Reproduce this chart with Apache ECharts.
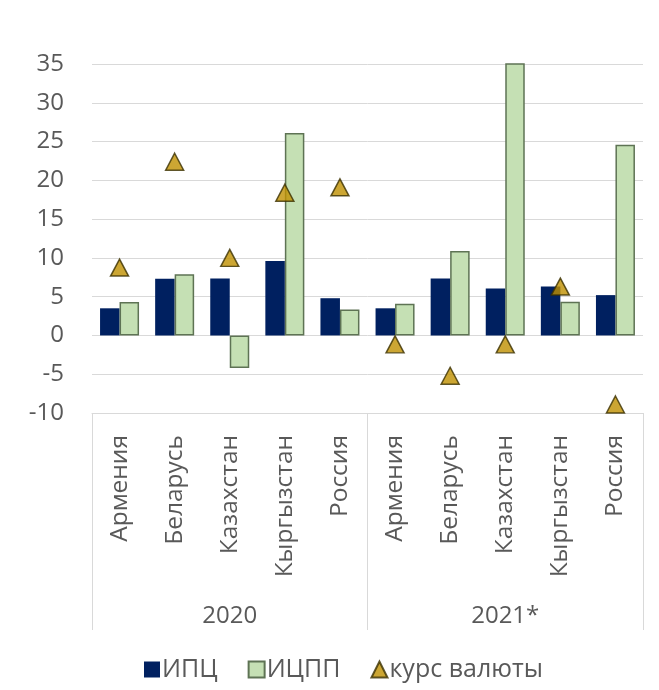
<!DOCTYPE html>
<html>
<head>
<meta charset="utf-8">
<script src="https://cdn.jsdelivr.net/npm/echarts@6/dist/echarts.min.js"></script>
<style>
  html, body { margin: 0; padding: 0; background: #ffffff; }
  #chart { width: 659px; height: 690px; }
</style>
</head>
<body>
<div id="chart"></div>
<script>
// Countries (repeated for each year) and the year groups below them
const countries = ['Армения', 'Беларусь', 'Казахстан', 'Кыргызстан', 'Россия',
                   'Армения', 'Беларусь', 'Казахстан', 'Кыргызстан', 'Россия'];
const years = ['2020', '2021*'];

// Series values, %
const cpi = [3.5, 7.3, 7.35, 9.6, 4.8, 3.5, 7.35, 6.05, 6.3, 5.2];           // ИПЦ
const ppi = [4.3, 7.9, -4.2, 26.1, 3.35, 4.1, 10.9, 35.1, 4.35, 24.6];      // ИЦПП
const fx  = [8.75, 22.4, 10.0, 18.4, 19.1, -1.15, -5.2, -1.15, 6.3, -8.9];  // курс валюты

const yTicks = { min: -10, max: 35, step: 5 };

const FONT = '"Open Sans", sans-serif';
const TEXT = '#595959';
const GRID = '#d9d9d9';

const chart = echarts.init(document.getElementById('chart'));
chart.setOption({
  backgroundColor: '#ffffff',
  animation: false,
  textStyle: { fontFamily: FONT },
  grid: { left: 92, right: 16, top: 64, bottom: 277, containLabel: false },
  legend: {
    left: 139, top: 652,
    itemWidth: 16, itemHeight: 16, itemGap: 30,
    textStyle: { fontFamily: FONT, fontSize: 25, color: TEXT, padding: [0, 0, 0, -3] },
    data: [
      { name: 'ИПЦ', icon: 'rect' },
      { name: 'ИЦПП', icon: 'rect' },
      { name: 'курс валюты', icon: 'triangle' }
    ]
  },
  xAxis: [
    {
      type: 'category',
      data: countries,
      boundaryGap: true,
      axisLine: { show: true, onZero: false, lineStyle: { color: GRID, width: 1 } },
      axisTick: { show: false },
      axisLabel: {
        rotate: 90, interval: 0, margin: 22,
        fontFamily: FONT, fontSize: 24.5, color: TEXT
      }
    },
    {
      // year groups: separators run down from the axis line, labels sit at the bottom
      type: 'category',
      data: years,
      position: 'bottom',
      offset: 0,
      boundaryGap: true,
      axisLine: { show: false, onZero: false },
      axisTick: { show: true, inside: false, length: 217, lineStyle: { color: GRID, width: 1 } },
      axisLabel: {
        margin: 191,
        fontFamily: FONT, fontSize: 24, color: TEXT
      }
    }
  ],
  yAxis: {
    type: 'value',
    min: yTicks.min, max: yTicks.max, interval: yTicks.step,
    axisLine: { show: false },
    axisTick: { show: false },
    axisLabel: { margin: 28, fontFamily: FONT, fontSize: 24, color: TEXT },
    splitLine: { show: true, lineStyle: { color: GRID, width: 1 } }
  },
  series: [
    {
      name: 'ИПЦ', type: 'bar', data: cpi, xAxisIndex: 0,
      barWidth: 19.5, barGap: '0%',
      itemStyle: { color: '#002060' }
    },
    {
      name: 'ИЦПП', type: 'bar', data: ppi, xAxisIndex: 0,
      barWidth: 19.5, barGap: '0%',
      itemStyle: { color: '#c5e0b4', borderColor: '#5e7354', borderWidth: 1.5 }
    },
    {
      name: 'курс валюты', type: 'scatter', data: fx, xAxisIndex: 0,
      symbol: 'triangle', symbolSize: [18, 17],
      itemStyle: { color: '#bf9000', borderColor: '#3a2f00', borderWidth: 1.5 },
      z: 5
    }
  ]
});
</script>
</body>
</html>
